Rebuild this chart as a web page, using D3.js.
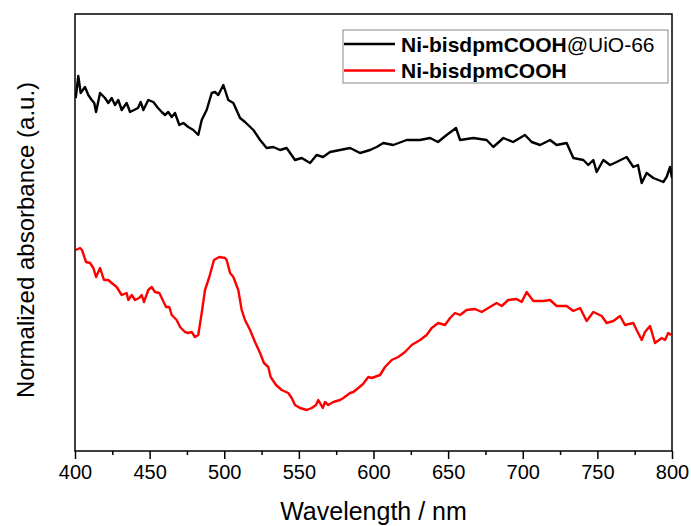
<!DOCTYPE html>
<html>
<head>
<meta charset="utf-8">
<script src="https://cdn.jsdelivr.net/npm/d3@7"></script>
<style>
  body { margin: 0; background: #fff; }
  text { font-family: Arial, "Liberation Sans", sans-serif; }
</style>
</head>
<body>
<svg id="chart" width="691" height="526"></svg>
<script>
// Ni-bisdpmCOOH@UiO-66 (black trace)
var hybridWavelength = [400.5, 402.2, 403.8, 406.7, 408.9, 411.2, 412.9, 414.1, 416.8, 420.1, 422.3, 424.6, 426.8, 429.0, 431.3, 434.6, 436.9, 442.2, 444.0, 445.8, 449.1, 452.5, 455.6, 458.1, 460.3, 462.5, 464.8, 467.0, 469.9, 472.6, 475.9, 479.3, 482.6, 484.9, 488.2, 491.6, 493.8, 496.0, 499.4, 502.7, 506.1, 510.6, 513.9, 519.5, 524.0, 528.4, 532.9, 537.4, 541.8, 547.4, 551.9, 557.5, 561.9, 566.2, 570.9, 577.6, 584.3, 591.0, 597.7, 602.1, 606.6, 613.3, 622.2, 631.2, 637.9, 643.2, 649.0, 655.3, 658.0, 666.9, 675.8, 680.3, 687.0, 693.5, 701.5, 706.0, 711.6, 718.3, 722.7, 729.4, 733.9, 740.6, 743.9, 747.3, 749.5, 754.0, 758.5, 762.9, 769.6, 774.1, 777.2, 779.7, 783.0, 787.5, 794.2, 796.4, 798.7, 800];
var hybridAbs = [3.53, 3.75, 3.58, 3.64, 3.56, 3.51, 3.48, 3.39, 3.58, 3.53, 3.48, 3.53, 3.46, 3.51, 3.41, 3.48, 3.39, 3.43, 3.49, 3.41, 3.51, 3.49, 3.43, 3.39, 3.36, 3.39, 3.34, 3.38, 3.26, 3.28, 3.24, 3.21, 3.16, 3.31, 3.41, 3.58, 3.59, 3.56, 3.66, 3.51, 3.48, 3.33, 3.29, 3.21, 3.11, 3.03, 3.04, 3.01, 3.03, 2.91, 2.93, 2.88, 2.96, 2.94, 2.99, 3.01, 3.03, 2.98, 3.01, 3.04, 3.08, 3.06, 3.11, 3.11, 3.13, 3.09, 3.16, 3.23, 3.11, 3.13, 3.11, 3.04, 3.13, 3.09, 3.16, 3.09, 3.06, 3.11, 3.06, 3.08, 2.93, 2.91, 2.86, 2.91, 2.79, 2.91, 2.86, 2.89, 2.94, 2.84, 2.86, 2.68, 2.78, 2.73, 2.69, 2.74, 2.84, 2.73];

// Ni-bisdpmCOOH (red trace)
var complexWavelength = [400.5, 403.4, 404.7, 407.4, 410.1, 412.3, 414.1, 416.8, 419.4, 422.3, 424.6, 427.9, 431.3, 434.6, 435.7, 438.0, 440.2, 442.9, 444.7, 446.2, 449.1, 451.4, 453.6, 456.5, 461.0, 463.2, 464.8, 468.1, 470.4, 473.7, 475.9, 478.2, 480.4, 482.6, 484.9, 487.1, 490.0, 493.1, 496.7, 500.5, 501.6, 503.9, 506.1, 509.4, 511.7, 513.9, 517.3, 520.6, 524.0, 526.6, 529.5, 531.1, 534.7, 538.5, 542.9, 545.2, 547.4, 550.8, 555.2, 558.6, 561.5, 563.0, 566.0, 567.5, 569.7, 573.1, 577.6, 579.8, 584.3, 586.5, 589.8, 593.0, 596.5, 598.8, 604.4, 607.7, 612.2, 616.6, 621.1, 625.6, 631.2, 635.6, 639.0, 643.4, 647.9, 651.3, 654.6, 658.0, 662.4, 668.0, 672.5, 676.9, 682.5, 685.9, 690.3, 695.9, 699.3, 702.6, 707.1, 713.8, 718.3, 722.7, 729.4, 733.9, 738.4, 742.8, 747.3, 752.9, 756.2, 760.7, 765.2, 768.5, 774.1, 776.3, 779.7, 781.9, 785.3, 788.6, 793.1, 795.3, 797.5, 799.3];
var complexAbs = [2.01, 2.03, 2.01, 1.89, 1.88, 1.83, 1.74, 1.83, 1.71, 1.71, 1.68, 1.64, 1.56, 1.58, 1.51, 1.56, 1.51, 1.53, 1.56, 1.49, 1.61, 1.64, 1.59, 1.58, 1.44, 1.44, 1.36, 1.31, 1.24, 1.19, 1.18, 1.19, 1.14, 1.16, 1.38, 1.61, 1.74, 1.91, 1.94, 1.93, 1.91, 1.78, 1.74, 1.61, 1.41, 1.31, 1.21, 1.09, 0.98, 0.88, 0.84, 0.74, 0.66, 0.61, 0.58, 0.53, 0.46, 0.43, 0.41, 0.43, 0.46, 0.51, 0.43, 0.49, 0.46, 0.49, 0.51, 0.53, 0.58, 0.59, 0.63, 0.67, 0.74, 0.73, 0.76, 0.84, 0.91, 0.94, 0.99, 1.06, 1.11, 1.16, 1.23, 1.28, 1.26, 1.33, 1.38, 1.36, 1.41, 1.42, 1.39, 1.43, 1.48, 1.45, 1.51, 1.52, 1.49, 1.59, 1.50, 1.50, 1.51, 1.45, 1.45, 1.40, 1.43, 1.30, 1.39, 1.35, 1.28, 1.30, 1.35, 1.26, 1.28, 1.21, 1.11, 1.19, 1.25, 1.08, 1.13, 1.11, 1.18, 1.16];

var majorTicks = [400, 450, 500, 550, 600, 650, 700, 750, 800];
var minorTicks = [425, 475, 525, 575, 625, 675, 725, 775];
var seriesNames = ['Ni-bisdpmCOOH@UiO-66', 'Ni-bisdpmCOOH'];
var seriesColors = ['#000000', '#ff0000'];

(function () {
  var svg = d3.select('#chart');
  var plotLeft = 75, plotRight = 672, plotTop = 14, plotBottom = 451;

  var x = d3.scaleLinear().domain([400, 800]).range([plotLeft, plotRight]);
  var y = d3.scaleLinear().domain([0, 4.37]).range([plotBottom, plotTop]);

  function toPoints(xs, ys) {
    return xs.map(function (d, i) { return [d, ys[i]]; });
  }

  var line = d3.line()
    .x(function (d) { return x(d[0]); })
    .y(function (d) { return y(d[1]); });

  var series = [
    toPoints(hybridWavelength, hybridAbs),
    toPoints(complexWavelength, complexAbs)
  ];

  // clip so traces stay inside the frame
  svg.append('clipPath').attr('id', 'plotClip')
    .append('rect')
    .attr('x', plotLeft).attr('y', plotTop)
    .attr('width', plotRight - plotLeft).attr('height', plotBottom - plotTop);

  svg.append('g').attr('clip-path', 'url(#plotClip)')
    .selectAll('path.trace')
    .data(series)
    .enter().append('path')
    .attr('class', 'trace')
    .attr('fill', 'none')
    .attr('stroke', function (d, i) { return seriesColors[i]; })
    .attr('stroke-width', 2.4)
    .attr('stroke-linejoin', 'round')
    .attr('d', line);

  // frame
  svg.append('rect')
    .attr('x', plotLeft).attr('y', plotTop)
    .attr('width', plotRight - plotLeft).attr('height', plotBottom - plotTop)
    .attr('fill', 'none')
    .attr('stroke', '#000')
    .attr('stroke-width', 1.5);

  // bottom axis, major + minor ticks
  var gx = svg.append('g')
    .attr('transform', 'translate(0,' + plotBottom + ')')
    .call(d3.axisBottom(x)
      .tickValues(majorTicks)
      .tickSize(8)
      .tickPadding(6)
      .tickFormat(d3.format('d')));
  gx.select('.domain').remove();
  gx.selectAll('line').attr('stroke', '#000').attr('stroke-width', 1.5);
  gx.selectAll('text')
    .attr('fill', '#000')
    .attr('font-size', null)
    .style('font-size', '20px')
    .style('font-family', 'Arial, "Liberation Sans", sans-serif');
  gx.attr('font-size', null).attr('font-family', null);

  var gMinor = svg.append('g')
    .attr('transform', 'translate(0,' + plotBottom + ')')
    .call(d3.axisBottom(x).tickValues(minorTicks).tickSize(4).tickFormat(''));
  gMinor.select('.domain').remove();
  gMinor.selectAll('line').attr('stroke', '#000').attr('stroke-width', 1.5);

  // axis titles
  svg.append('text')
    .attr('x', (plotLeft + plotRight) / 2)
    .attr('y', 520)
    .attr('text-anchor', 'middle')
    .style('font-size', '25px')
    .text('Wavelength / nm');

  svg.append('text')
    .attr('transform', 'translate(34,240) rotate(-90)')
    .attr('text-anchor', 'middle')
    .style('font-size', '24px')
    .text('Normalized absorbance (a.u.)');

  // legend
  var legend = svg.append('g');
  legend.append('rect')
    .attr('x', 343).attr('y', 30)
    .attr('width', 325).attr('height', 53)
    .attr('fill', '#fff')
    .attr('stroke', '#888')
    .attr('stroke-width', 1);

  var rows = legend.selectAll('g.row')
    .data(seriesNames)
    .enter().append('g')
    .attr('class', 'row')
    .attr('transform', function (d, i) { return 'translate(0,' + (44 + i * 26.5) + ')'; });

  rows.append('line')
    .attr('x1', 344).attr('x2', 395)
    .attr('stroke', function (d, i) { return seriesColors[i]; })
    .attr('stroke-width', 2.4);

  rows.append('text')
    .attr('x', 401)
    .attr('dy', '0.36em')
    .style('font-size', '21px')
    .each(function (d) {
      var t = d3.select(this);
      var at = d.indexOf('@');
      var head = at < 0 ? d : d.slice(0, at);
      t.append('tspan').style('font-weight', 'bold').text(head);
      if (at >= 0) {
        t.append('tspan').style('font-weight', 'normal').text(d.slice(at));
      }
    });
})();
</script>
</body>
</html>
